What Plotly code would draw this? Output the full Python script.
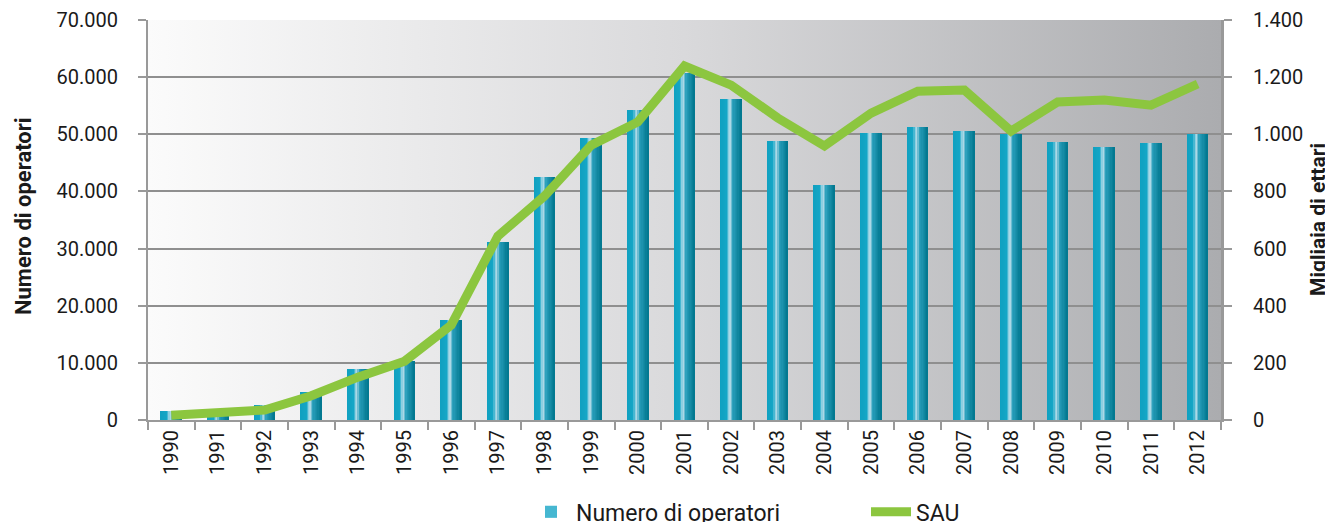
import base64
import plotly.graph_objects as go

years = [str(y) for y in range(1990, 2013)]
operatori = [1550, 1900, 2600, 4850, 8850, 10400, 17500, 31100, 42500, 49300, 54200,
             60700, 56100, 48800, 41100, 50200, 51300, 50600, 50000, 48650, 47800, 48500, 50000]
sau = [17, 25, 35, 85, 150, 206, 332, 644, 784, 962, 1043,
       1239, 1172, 1057, 959, 1074, 1151, 1155, 1011, 1113, 1120, 1102, 1176]

left_ticks = [0, 10000, 20000, 30000, 40000, 50000, 60000, 70000]
right_ticks = [0, 200, 400, 600, 800, 1000, 1200, 1400]

FONT = "Roboto"
TXT = "#1a1a1a"
GRID = "#8f8f8f"

# horizontal cylinder-like gradient for bars (style stops)
stops = [(0.0, (16, 160, 192)), (0.30, (20, 166, 198)), (0.45, (190, 224, 236)),
         (0.60, (40, 158, 186)), (1.0, (0, 118, 142))]


def grad(t):
    for (t0, c0), (t1, c1) in zip(stops[:-1], stops[1:]):
        if t0 <= t <= t1:
            f = (t - t0) / (t1 - t0) if t1 > t0 else 0
            return "rgb(%d,%d,%d)" % tuple(round(a + (b - a) * f) for a, b in zip(c0, c1))
    return "rgb(%d,%d,%d)" % stops[-1][1]


fig = go.Figure()

BW = 0.45
N = 16
for i in range(N):
    fig.add_trace(go.Bar(
        x=years, y=operatori,
        width=BW / N + 0.004, offset=-BW / 2 + i * BW / N,
        marker=dict(color=grad((i + 0.5) / N), line=dict(width=0)),
        name="Numero di operatori", legendgroup="op",
        showlegend=(i == 5), yaxis="y", hoverinfo="skip" if i else None,
    ))

fig.add_trace(go.Scatter(
    x=years, y=sau, yaxis="y2", mode="lines", name="SAU",
    line=dict(color="#8cc63f", width=9),
))

svg = ('<svg xmlns="http://www.w3.org/2000/svg" width="200" height="100" preserveAspectRatio="none">'
       '<defs><linearGradient id="g" x1="0" y1="0" x2="1" y2="0">'
       '<stop offset="0" stop-color="#fbfbfb"/><stop offset="0.5" stop-color="#d9d9db"/>'
       '<stop offset="1" stop-color="#abacaf"/></linearGradient></defs>'
       '<rect width="200" height="100" fill="url(#g)"/></svg>')
src = "data:image/svg+xml;base64," + base64.b64encode(svg.encode()).decode()

# the page body adds an 8px offset; margins compensate so the plot sits at 148..1221 x 20..420
fig.update_layout(
    width=1333, height=522,
    margin=dict(l=140, r=120, t=12, b=110, autoexpand=False),
    paper_bgcolor="white", plot_bgcolor="rgba(0,0,0,0)",
    barmode="overlay", bargap=0,
    separators=",.",
    font=dict(family=FONT, size=20, color=TXT),
    images=[dict(source=src, xref="paper", yref="paper", x=0, y=1, sizex=1, sizey=1,
                 sizing="stretch", layer="below", xanchor="left", yanchor="top")],
    xaxis=dict(type="category", tickangle=-90, showgrid=False, showline=True,
               linecolor="#999999", linewidth=2, ticks="outside", tickson="boundaries",
               ticklen=8, tickwidth=2, tickcolor="#999999", automargin=False,
               tickfont=dict(size=20, color=TXT), range=[-0.5, 22.5]),
    yaxis=dict(range=[0, 70000], tickvals=left_ticks, tickformat=",d",
               showgrid=True, gridcolor=GRID, gridwidth=2, zeroline=False,
               showline=True, linecolor="#999999", linewidth=2, automargin=False,
               ticks="outside", ticklen=8, tickwidth=2, tickcolor="#999999",
               ticklabelstandoff=16, tickfont=dict(size=20, color=TXT)),
    yaxis2=dict(range=[0, 1400], tickvals=right_ticks, tickformat=",d",
                overlaying="y", side="right", showgrid=False, zeroline=False,
                showline=True, linecolor="#999999", linewidth=3, automargin=False,
                ticks="outside", ticklen=8, tickwidth=2, tickcolor="#999999",
                ticklabelstandoff=17, tickfont=dict(size=20, color=TXT)),
    legend=dict(orientation="h", x=(526 - 148) / 1073, xanchor="left", y=-0.176, yanchor="top",
                font=dict(size=23, color=TXT), itemwidth=40, entrywidthmode="pixels",
                entrywidth=285, bgcolor="rgba(0,0,0,0)"),
    annotations=[
        dict(text="<b>Numero di operatori</b>", xref="paper", yref="paper",
             x=(23 - 148) / 1073, y=0.51, textangle=-90, showarrow=False,
             font=dict(size=22, color=TXT), xanchor="center", yanchor="middle"),
        dict(text="<b>Migliaia di ettari</b>", xref="paper", yref="paper",
             x=(1318 - 148) / 1073, y=0.5, textangle=-90, showarrow=False,
             font=dict(size=21, color=TXT), xanchor="center", yanchor="middle"),
    ],
)

fig.write_html("out.html")
